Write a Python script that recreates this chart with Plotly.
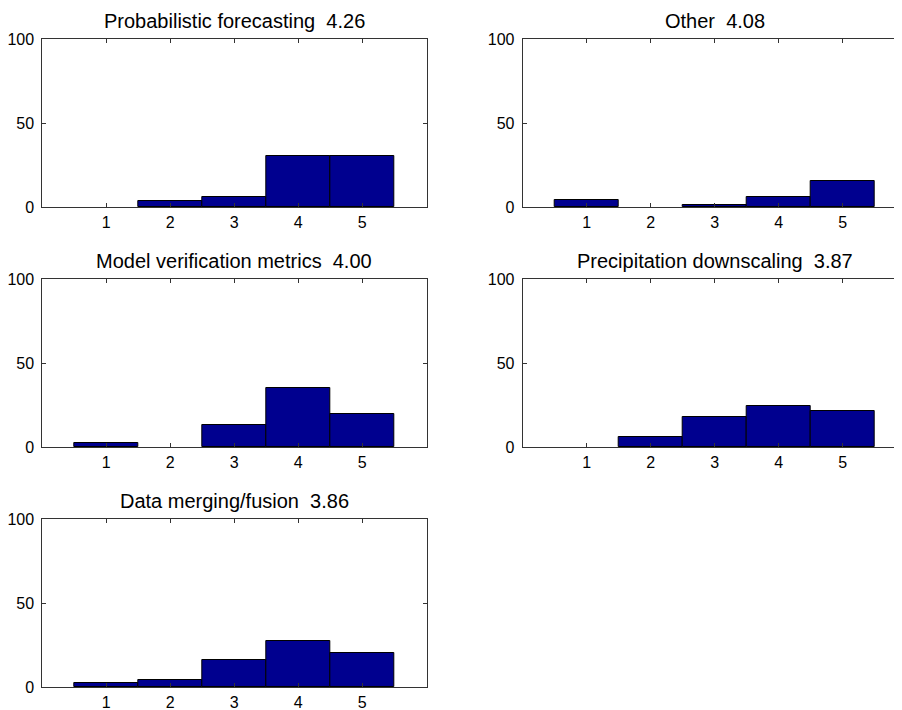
import plotly.graph_objects as go

# ---- data ----
ratings = [1, 2, 3, 4, 5]
titles = [
    "Probabilistic forecasting  4.26",
    "Other  4.08",
    "Model verification metrics  4.00",
    "Precipitation downscaling  3.87",
    "Data merging/fusion  3.86",
]
prob_forecasting = [0, 3.5, 6.3, 30.2, 30.2]
other = [4.6, 0, 1.6, 6.3, 15.5]
model_verification = [2.6, 0, 13.3, 35.3, 19.8]
precip_downscaling = [0, 6.2, 18.1, 24.4, 21.4]
data_merging = [2.6, 4.6, 16.5, 27.4, 20.4]
series = [prob_forecasting, other, model_verification, precip_downscaling, data_merging]
y_ticks = [0, 50, 100]

# ---- layout geometry (page pixels; the page body adds an 8px offset) ----
OFF = 8
W, H = 902 - OFF, 710 - OFF
col_px = [(42.3, 426.7), (522.7, 902.0)]
row_px = [(39.0, 207.3), (279.0, 447.3), (519.0, 687.3)]
px_per_unit = 64.0

FONT = "Liberation Sans, Arial, sans-serif"
BAR_COLOR = "rgb(0,0,143)"

fig = go.Figure()
annotations = []
for i, (title, vals) in enumerate(zip(titles, series)):
    r, c = divmod(i, 2)
    n = i + 1
    xa = "x" if n == 1 else f"x{n}"
    ya = "y" if n == 1 else f"y{n}"
    x0, x1 = col_px[c]
    t, b = row_px[r]
    xdom = [(x0 - OFF) / W, min(1.0, (x1 - OFF) / W)]
    ydom = [1 - (b - OFF) / H, 1 - (t - OFF) / H]
    xmax = (x1 - x0) / px_per_unit

    fig.add_trace(go.Bar(
        x=ratings, y=vals, width=1.0,
        marker=dict(color=BAR_COLOR,
                    line=dict(color="black", width=[1 if v > 0 else 0 for v in vals])),
        xaxis=xa, yaxis=ya, showlegend=False,
    ))
    axis_common = dict(
        showgrid=False, zeroline=False, showline=True, linecolor="#333",
        linewidth=1, ticks="inside", ticklen=4, tickcolor="#333",
        automargin=False,
        tickfont=dict(family=FONT, size=16, color="black"),
    )
    fig.layout[f"xaxis{'' if n == 1 else n}"] = dict(
        domain=xdom, range=[0, xmax], tickvals=ratings, mirror="ticks",
        anchor=ya, **axis_common,
    )
    fig.layout[f"yaxis{'' if n == 1 else n}"] = dict(
        domain=ydom, range=[0, 100], tickvals=y_ticks,
        mirror=("ticks" if c == 0 else False), anchor=xa,
        ticklabelstandoff=4, **axis_common,
    )
    annotations.append(dict(
        text=title, xref="paper", yref="paper",
        x=(x0 - OFF + 3 * px_per_unit) / W, y=ydom[1],
        xanchor="center", yanchor="bottom", yshift=5, showarrow=False,
        font=dict(family=FONT, size=20, color="black"),
    ))

fig.update_layout(
    width=W, height=H,
    margin=dict(l=0, r=0, t=0, b=0),
    paper_bgcolor="white", plot_bgcolor="white",
    annotations=annotations, bargap=0,
)
fig.write_html("out.html")
